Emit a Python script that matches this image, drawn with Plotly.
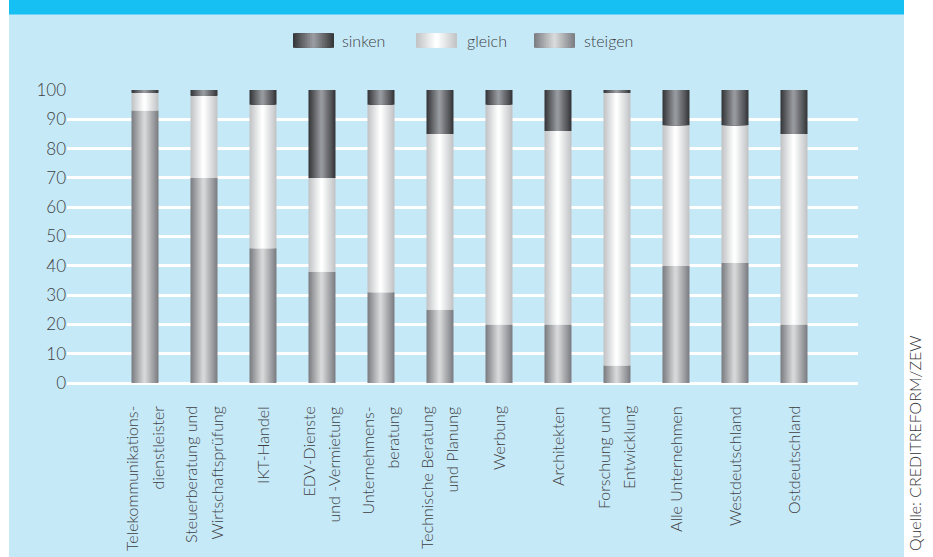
import plotly.graph_objects as go

# ---------------- data ----------------
categories = [
    "Telekommunikations-<br>dienstleister",
    "Steuerberatung und<br>Wirtschaftsprüfung",
    "IKT-Handel",
    "EDV-Dienste<br>und -Vermietung",
    "Unternehmens-<br>beratung",
    "Technische Beratung<br>und Planung",
    "Werbung",
    "Architekten",
    "Forschung und<br>Entwicklung",
    "Alle Unternehmen",
    "Westdeutschland",
    "Ostdeutschland",
]
steigen = [93, 70, 46, 38, 31, 25, 20, 20, 6, 40, 41, 20]
gleich = [6, 28, 49, 32, 64, 60, 75, 66, 93, 48, 47, 65]
sinken = [1, 2, 5, 30, 5, 15, 5, 14, 1, 12, 12, 15]

series_names = ["sinken", "gleich", "steigen"]
y_ticks = [0, 10, 20, 30, 40, 50, 60, 70, 80, 90, 100]
source_text = "Quelle: CREDITREFORM/ZEW"

# ---------------- styling ----------------
W_PX, H_PX = 933, 557
ML, MR, MT, MB = 67, 75, 90, 174
PW = W_PX - ML - MR
PH = H_PX - MT - MB

FONT = "Lato"
TEXT_COL = "#3e3e41"
PANEL = "#c6e9f8"
BAND = "#16c0f2"

grad = {
    "steigen": ("#7d7f83", "#d7d8da"),
    "gleich": ("#c2c4c6", "#ffffff"),
    "sinken": ("#37383b", "#979a9e"),
}
N_LAYERS = 12
BAR_W = 0.458
HIGHLIGHT = 0.48
LINE_GAP = 25  # px between the two lines of a category label


def hex2rgb(h):
    h = h.lstrip("#")
    return tuple(int(h[i:i + 2], 16) for i in (0, 2, 4))


def mix(c1, c2, t):
    a, b = hex2rgb(c1), hex2rgb(c2)
    return "rgb(%d,%d,%d)" % tuple(round(a[i] + (b[i] - a[i]) * t) for i in range(3))


def px2x(px):
    return (px - ML) / PW


def px2y(py):
    return (H_PX - MB - py) / PH


fig = go.Figure()

bases = {
    "steigen": [0] * len(categories),
    "gleich": steigen,
    "sinken": [s + g for s, g in zip(steigen, gleich)],
}
values = {"steigen": steigen, "gleich": gleich, "sinken": sinken}

for name in ["steigen", "gleich", "sinken"]:
    edge, center = grad[name]
    for k in range(N_LAYERS):
        f = k / N_LAYERS
        left = -BAR_W / 2 + f * HIGHLIGHT * BAR_W
        right = BAR_W / 2 - f * (1 - HIGHLIGHT) * BAR_W
        t = k / (N_LAYERS - 1)
        fig.add_trace(go.Bar(
            x=categories,
            y=values[name],
            base=bases[name],
            width=right - left,
            offset=left,
            marker=dict(color=mix(edge, center, t), line=dict(width=0)),
            name=name,
            showlegend=False,
            hoverinfo="skip" if k else None,
        ))

shapes = [
    dict(type="rect", xref="paper", yref="paper", layer="below",
         x0=px2x(9), x1=px2x(904), y0=px2y(H_PX + 5), y1=px2y(0),
         fillcolor=PANEL, line=dict(width=0)),
    dict(type="rect", xref="paper", yref="paper", layer="below",
         x0=px2x(9), x1=px2x(904), y0=px2y(14.5), y1=px2y(-5),
         fillcolor=BAND, line=dict(width=0)),
]

annotations = []
legend_pos = [(293, 340), (416, 465), (534, 582)]
for name, (sx, tx) in zip(series_names, legend_pos):
    edge, center = grad[name]
    sw = 41
    for k in range(N_LAYERS):
        f = k / N_LAYERS
        l = sx + f * 0.5 * sw
        r = sx + sw - f * 0.5 * sw
        t = k / (N_LAYERS - 1)
        shapes.append(dict(type="rect", xref="paper", yref="paper", layer="above",
                           x0=px2x(l), x1=px2x(r), y0=px2y(47.7), y1=px2y(33.3),
                           fillcolor=mix(edge, center, t), line=dict(width=0)))
    annotations.append(dict(
        text=name, xref="paper", yref="paper", x=px2x(tx), y=px2y(40.5),
        xanchor="left", yanchor="middle", showarrow=False,
        font=dict(family=FONT, size=16, color=TEXT_COL, weight=300),
    ))

# category labels (rotated), one annotation per text line
for cat in categories:
    lines = cat.split("<br>")
    n = len(lines)
    for i, line in enumerate(lines):
        shift = -1 + (i - (n - 1) / 2) * LINE_GAP
        annotations.append(dict(
            text=line, xref="x", yref="paper", x=cat, y=px2y(404),
            xanchor="center", yanchor="top", textangle=-90, xshift=shift,
            showarrow=False,
            font=dict(family=FONT, size=16, color=TEXT_COL, weight=300),
        ))

annotations.append(dict(
    text=source_text, xref="paper", yref="paper", x=px2x(914), y=px2y(333),
    xanchor="center", yanchor="top", textangle=-90, showarrow=False,
    font=dict(family=FONT, size=16, color="#333335", weight=300),
))

fig.update_layout(
    width=W_PX, height=H_PX, autosize=False,
    margin=dict(l=ML, r=MR, t=MT, b=MB, pad=0),
    paper_bgcolor="white",
    plot_bgcolor="rgba(0,0,0,0)",
    barmode="overlay",
    showlegend=False,
    hovermode=False,
    shapes=shapes,
    annotations=annotations,
    xaxis=dict(
        type="category",
        categoryorder="array", categoryarray=categories,
        range=[-1.322, 12.085],
        showgrid=False, zeroline=False, showline=False,
        ticks="", showticklabels=False,
    ),
    yaxis=dict(
        range=[0, 100],
        tickvals=y_ticks,
        showgrid=True, gridcolor="white", gridwidth=2.5,
        zeroline=True, zerolinecolor="white", zerolinewidth=2.5,
        showline=False, ticks="", ticklen=0,
        tickfont=dict(family=FONT, size=17, color=TEXT_COL, weight=300),
        ticklabelstandoff=0,
    ),
)

fig.write_html("out.html", config={"displayModeBar": False},
               post_script="document.body.style.margin='0';")
